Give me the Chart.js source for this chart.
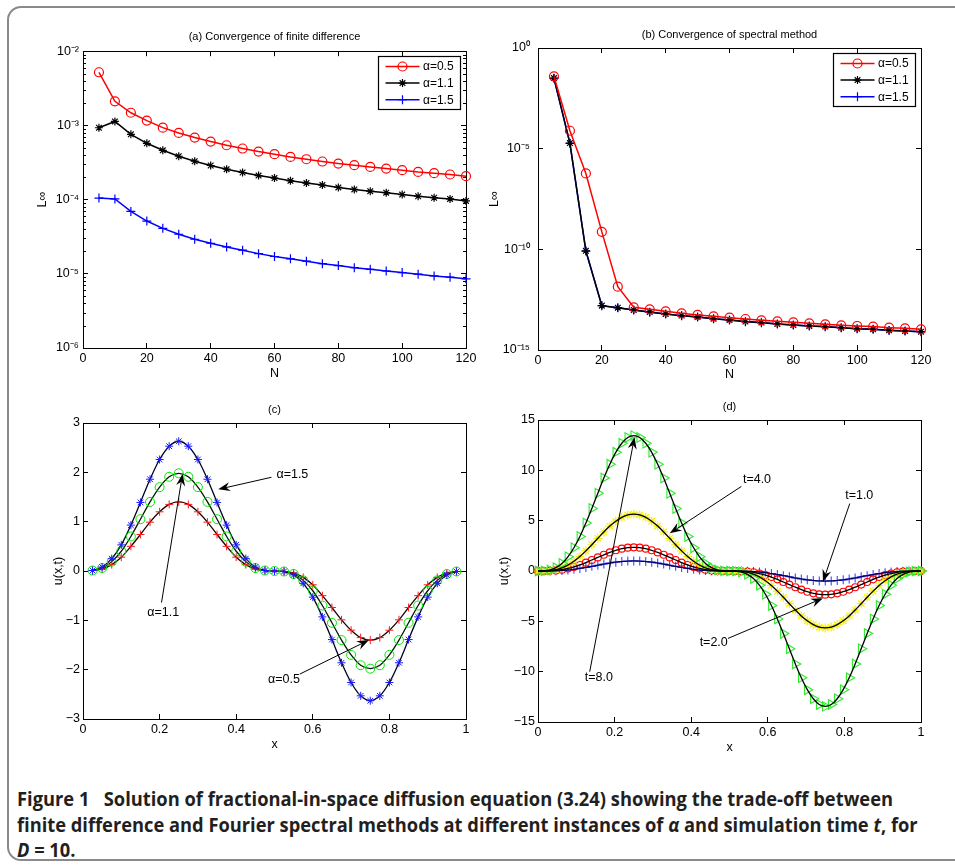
<!DOCTYPE html>
<html>
<head>
<meta charset="utf-8">
<script src="https://cdn.jsdelivr.net/npm/chart.js@4.4.1/dist/chart.umd.min.js"></script>
<style>
  html, body { margin: 0; padding: 0; background: #fff; }
  body { width: 955px; height: 865px; position: relative; overflow: hidden; }
  #card { position: absolute; left: 7px; top: 6px; width: 990px; height: 855px; border: 2px solid #8a8a8a;
          border-radius: 14px; box-sizing: border-box; }
  canvas { position: absolute; }
  #cap { position: absolute; left: 17px; top: 786px; font-family: 'Open Sans', sans-serif; font-weight: 700;
         font-size: 20px; line-height: 25.5px; color: #231f20; }
  .cl { white-space: nowrap; width: max-content; transform-origin: 0 0; }
</style>
</head>
<body>
<div id="card"></div>
<canvas id="chartA" width="480" height="362" style="left:10px;top:22px;width:480px;height:362px"></canvas>
<canvas id="chartB" width="480" height="364" style="left:470px;top:20px;width:480px;height:364px"></canvas>
<canvas id="chartC" width="480" height="362" style="left:10px;top:398px;width:480px;height:362px"></canvas>
<canvas id="chartD" width="480" height="364" style="left:470px;top:396px;width:480px;height:364px"></canvas>
<div id="cap">
  <div class="cl" data-w="876">Figure 1&nbsp;&nbsp; Solution of fractional-in-space diffusion equation (3.24) showing the trade-off between</div>
  <div class="cl" data-w="901">finite difference and Fourier spectral methods at different instances of <i>α</i> and simulation time <i>t</i>, for</div>
  <div class="cl"><i>D</i> = 10.</div>
</div>
<script>
// ---- (a) / (b) convergence data ----
const nValues = [5, 10, 15, 20, 25, 30, 35, 40, 45, 50, 55, 60, 65, 70, 75, 80, 85, 90, 95, 100, 105, 110, 115, 120];

const fdAlpha05 = [5.2e-3, 2.11e-3, 1.48e-3, 1.16e-3, 9.33e-4, 7.91e-4, 6.85e-4, 6.05e-4, 5.40e-4, 4.88e-4, 4.44e-4, 4.09e-4,
                   3.76e-4, 3.50e-4, 3.26e-4, 3.06e-4, 2.91e-4, 2.76e-4, 2.62e-4, 2.49e-4, 2.36e-4, 2.27e-4, 2.18e-4, 2.07e-4];
const fdAlpha11 = [9.3e-4, 1.13e-3, 7.59e-4, 5.74e-4, 4.62e-4, 3.84e-4, 3.29e-4, 2.88e-4, 2.57e-4, 2.32e-4, 2.11e-4, 1.95e-4,
                   1.79e-4, 1.67e-4, 1.57e-4, 1.46e-4, 1.37e-4, 1.30e-4, 1.24e-4, 1.17e-4, 1.11e-4, 1.06e-4, 1.02e-4, 9.6e-5];
const fdAlpha15 = [1.05e-4, 1.02e-4, 6.93e-5, 5.14e-5, 4.10e-5, 3.41e-5, 2.92e-5, 2.58e-5, 2.30e-5, 2.08e-5, 1.87e-5, 1.71e-5,
                   1.59e-5, 1.48e-5, 1.37e-5, 1.29e-5, 1.21e-5, 1.15e-5, 1.09e-5, 1.04e-5, 9.87e-6, 9.37e-6, 9.0e-6, 8.55e-6];

const spAlpha05 = [3.9e-2, 7.75e-5, 5.86e-7, 7.4e-10, 1.4e-12, 1.32e-13, 1.05e-13, 8.3e-14, 6.6e-14, 5.5e-14, 4.7e-14, 4.04e-14,
                   3.47e-14, 2.98e-14, 2.65e-14, 2.36e-14, 2.12e-14, 1.89e-14, 1.69e-14, 1.56e-14, 1.45e-14, 1.29e-14, 1.19e-14, 1.07e-14];
const spAlpha11 = [3.2e-2, 1.89e-5, 8.4e-11, 1.6e-13, 1.27e-13, 9.7e-14, 7.7e-14, 6.2e-14, 5.1e-14, 4.37e-14, 3.6e-14, 3.1e-14,
                   2.57e-14, 2.29e-14, 1.96e-14, 1.75e-14, 1.56e-14, 1.45e-14, 1.29e-14, 1.15e-14, 1.07e-14, 9.5e-15, 8.8e-15, 8.1e-15];
const spAlpha15 = [3.1e-2, 1.85e-5, 8.2e-11, 1.58e-13, 1.25e-13, 9.6e-14, 7.6e-14, 6.1e-14, 5.0e-14, 4.3e-14, 3.55e-14, 3.05e-14,
                   2.55e-14, 2.27e-14, 1.94e-14, 1.73e-14, 1.54e-14, 1.43e-14, 1.28e-14, 1.14e-14, 1.06e-14, 9.4e-15, 8.7e-15, 8.0e-15];

const fdTicks = [1e-6, 1e-5, 1e-4, 1e-3, 1e-2];
const spTicks = [1e-15, 1e-10, 1e-5, 1];

// ---- (c) solutions for different alpha ----
const xC = [0.025, 0.05, 0.075, 0.1, 0.125, 0.15, 0.175, 0.2, 0.225, 0.25, 0.275, 0.3, 0.325, 0.35, 0.375, 0.4, 0.425, 0.45, 0.475,
            0.5, 0.525, 0.55, 0.575, 0.6, 0.625, 0.65, 0.675, 0.7, 0.725, 0.75, 0.775, 0.8, 0.825, 0.85, 0.875, 0.9, 0.925, 0.95, 0.975];
const uAlpha15 = [0.01, 0.08, 0.25, 0.53, 0.93, 1.39, 1.86, 2.26, 2.53, 2.63, 2.53, 2.26, 1.86, 1.39, 0.93, 0.53, 0.25, 0.08, 0.01,
                  0, -0.01, -0.08, -0.25, -0.53, -0.93, -1.39, -1.86, -2.26, -2.53, -2.63, -2.53, -2.26, -1.86, -1.39, -0.93, -0.53, -0.25, -0.08, -0.01];
const uAlpha11 = [0.01, 0.06, 0.19, 0.40, 0.70, 1.05, 1.40, 1.70, 1.91, 1.98, 1.91, 1.70, 1.40, 1.05, 0.70, 0.40, 0.19, 0.06, 0.01,
                  0, -0.01, -0.06, -0.19, -0.40, -0.70, -1.05, -1.40, -1.70, -1.91, -1.98, -1.91, -1.70, -1.40, -1.05, -0.70, -0.40, -0.19, -0.06, -0.01];
const uAlpha05 = [0.01, 0.04, 0.13, 0.28, 0.50, 0.74, 0.99, 1.20, 1.35, 1.40, 1.35, 1.20, 0.99, 0.74, 0.50, 0.28, 0.13, 0.04, 0.01,
                  0, -0.01, -0.04, -0.13, -0.28, -0.50, -0.74, -0.99, -1.20, -1.35, -1.40, -1.35, -1.20, -0.99, -0.74, -0.50, -0.28, -0.13, -0.04, -0.01];

// ---- (d) solutions at different times ----
const xD = [0, 0.0156, 0.0313, 0.0469, 0.0625, 0.0781, 0.0938, 0.1094, 0.125, 0.1406, 0.1563, 0.1719, 0.1875, 0.2031, 0.2188, 0.2344, 0.25,
            0.2656, 0.2813, 0.2969, 0.3125, 0.3281, 0.3438, 0.3594, 0.375, 0.3906, 0.4063, 0.4219, 0.4375, 0.4531, 0.4688, 0.4844, 0.5,
            0.5156, 0.5313, 0.5469, 0.5625, 0.5781, 0.5938, 0.6094, 0.625, 0.6406, 0.6563, 0.6719, 0.6875, 0.7031, 0.7188, 0.7344, 0.75,
            0.7656, 0.7813, 0.7969, 0.8125, 0.8281, 0.8438, 0.8594, 0.875, 0.8906, 0.9063, 0.9219, 0.9375, 0.9531, 0.9688, 0.9844, 1];
const uT8 = [0, 0.01, 0.10, 0.33, 0.75, 1.41, 2.31, 3.43, 4.76, 6.21, 7.73, 9.23, 10.61, 11.79, 12.69, 13.26, 13.45,
             13.26, 12.69, 11.79, 10.61, 9.23, 7.73, 6.21, 4.76, 3.43, 2.31, 1.41, 0.75, 0.33, 0.10, 0.01, 0,
             -0.01, -0.10, -0.33, -0.75, -1.41, -2.31, -3.43, -4.76, -6.21, -7.73, -9.23, -10.61, -11.79, -12.69, -13.26, -13.45,
             -13.26, -12.69, -11.79, -10.61, -9.23, -7.73, -6.21, -4.76, -3.43, -2.31, -1.41, -0.75, -0.33, -0.10, -0.01, 0];
const uT4 = [0, 0.01, 0.04, 0.14, 0.32, 0.59, 0.97, 1.44, 2.00, 2.61, 3.25, 3.88, 4.46, 4.95, 5.33, 5.57, 5.65,
             5.57, 5.33, 4.95, 4.46, 3.88, 3.25, 2.61, 2.00, 1.44, 0.97, 0.59, 0.32, 0.14, 0.04, 0.01, 0,
             -0.01, -0.04, -0.14, -0.32, -0.59, -0.97, -1.44, -2.00, -2.61, -3.25, -3.88, -4.46, -4.95, -5.33, -5.57, -5.65,
             -5.57, -5.33, -4.95, -4.46, -3.88, -3.25, -2.61, -2.00, -1.44, -0.97, -0.59, -0.32, -0.14, -0.04, -0.01, 0];
const uT2 = [0, 0.00, 0.02, 0.06, 0.13, 0.25, 0.40, 0.60, 0.83, 1.09, 1.35, 1.61, 1.85, 2.06, 2.22, 2.32, 2.35,
             2.32, 2.22, 2.06, 1.85, 1.61, 1.35, 1.09, 0.83, 0.60, 0.40, 0.25, 0.13, 0.06, 0.02, 0.00, 0,
             -0.00, -0.02, -0.06, -0.13, -0.25, -0.40, -0.60, -0.83, -1.09, -1.35, -1.61, -1.85, -2.06, -2.22, -2.32, -2.35,
             -2.32, -2.22, -2.06, -1.85, -1.61, -1.35, -1.09, -0.83, -0.60, -0.40, -0.25, -0.13, -0.06, -0.02, -0.00, 0];
const uT1 = [0, 0.00, 0.01, 0.02, 0.06, 0.10, 0.17, 0.26, 0.35, 0.46, 0.57, 0.69, 0.79, 0.88, 0.94, 0.99, 1.00,
             0.99, 0.94, 0.88, 0.79, 0.69, 0.57, 0.46, 0.35, 0.26, 0.17, 0.10, 0.06, 0.02, 0.01, 0.00, 0,
             -0.00, -0.01, -0.02, -0.06, -0.10, -0.17, -0.26, -0.35, -0.46, -0.57, -0.69, -0.79, -0.88, -0.94, -0.99, -1.00,
             -0.99, -0.94, -0.88, -0.79, -0.69, -0.57, -0.46, -0.35, -0.26, -0.17, -0.10, -0.06, -0.02, -0.01, -0.00, 0];

// text labels with arrows (text anchor, arrow tail, arrow head) in data units
const notesC = [
  { text: 'α=1.5', tx: 0.505, ty: 1.95, x0: 0.492, y0: 1.90, x1: 0.353, y1: 1.655 },
  { text: 'α=1.1', tx: 0.168, ty: -0.85, x0: 0.205, y0: -0.64, x1: 0.26, y1: 1.97 },
  { text: 'α=0.5', tx: 0.483, ty: -2.20, x0: 0.566, y0: -2.09, x1: 0.7465, y1: -1.40 }
];
const notesD = [
  { text: 't=4.0', tx: 0.535, ty: 9.1, x0: 0.531, y0: 8.4, x1: 0.344, y1: 3.74 },
  { text: 't=1.0', tx: 0.802, ty: 7.5, x0: 0.814, y0: 6.7, x1: 0.744, y1: -1.06 },
  { text: 't=2.0', tx: 0.422, ty: -7.1, x0: 0.496, y0: -6.7, x1: 0.744, y1: -2.7 },
  { text: 't=8.0', tx: 0.122, ty: -10.6, x0: 0.135, y0: -10.0, x1: 0.252, y1: 13.3 }
];

const FONT = "'Liberation Sans', Arial, Helvetica, sans-serif";
const tickFont = { family: FONT, size: 12.5 };
const SUP = { '-': '\u207B', '0': '\u2070', '1': '\u00B9', '2': '\u00B2', '3': '\u00B3', '4': '\u2074',
              '5': '\u2075', '6': '\u2076', '7': '\u2077', '8': '\u2078', '9': '\u2079' };

function minus(v) { return v < 0 ? '\u2212' + Math.abs(v) : String(v); }
function powLabel(v) {
  const e = String(Math.round(Math.log10(v)));
  return '10' + e.split('').map(c => SUP[c]).join('');
}
function pts(xs, ys) { return xs.map((x, i) => ({ x: x, y: ys[i] })); }

// matlab style box: ticks pointing inwards on all four sides
function boxScales(o) {
  const grid = { display: true, drawOnChartArea: false, drawTicks: true, tickLength: -5, color: '#000', lineWidth: 1 };
  const border = { display: true, color: '#000', width: 1 };
  const xTicks = { stepSize: o.xStep, autoSkip: false, maxRotation: 0, color: '#000', font: tickFont, padding: 8.5, callback: minus };
  const yTicks = { autoSkip: false, color: '#000', font: tickFont, padding: o.yPad, callback: o.yFmt || minus };
  if (o.yStep) yTicks.stepSize = o.yStep;
  const setTicks = o.yList ? (s => { s.ticks = o.yList.map(v => ({ value: v })); }) : undefined;
  return {
    x: { type: 'linear', position: 'bottom', min: o.xMin, max: o.xMax, grid: grid, border: border, ticks: xTicks,
         title: { display: true, text: o.xTitle, color: '#000', font: tickFont, padding: { top: 0, bottom: o.xTitlePad } },
         afterFit: s => { s.height = o.xH; } },
    xTop: { type: 'linear', position: 'top', min: o.xMin, max: o.xMax, grid: grid, border: border,
            ticks: Object.assign({}, xTicks, { display: false }), afterFit: s => { s.height = 0; } },
    y: { type: o.yType, position: 'left', min: o.yMin, max: o.yMax, grid: grid, border: border, ticks: yTicks,
         afterBuildTicks: setTicks,
         title: { display: true, text: o.yTitle, color: '#000', font: tickFont, padding: { top: o.yTitlePad, bottom: 0 } },
         afterFit: s => { s.width = o.yW; } },
    yRight: { type: o.yType, position: 'right', min: o.yMin, max: o.yMax, grid: grid, border: border,
              ticks: Object.assign({}, yTicks, { display: false }), afterBuildTicks: setTicks,
              afterFit: s => { s.width = 0; } }
  };
}

function baseOptions(title, padR, tPad, bPad, scales) {
  return {
    responsive: false, animation: false, events: [],
    layout: { padding: { left: 0, right: padR, top: 0, bottom: 0 } },
    plugins: {
      legend: { display: false }, tooltip: { enabled: false },
      title: { display: true, text: title, fullSize: false, color: '#000',
               font: { family: FONT, size: 11, weight: 'normal' }, padding: { top: tPad, bottom: bPad } }
    },
    scales: scales
  };
}

// legend drawn as a boxed list inside the top right corner of the axes
function boxLegend() {
  return {
    id: 'boxLegend',
    afterDraw(chart) {
      const { ctx, chartArea: a } = chart;
      const sets = chart.data.datasets.filter(d => d.label);
      ctx.save();
      ctx.font = '12px ' + FONT;
      const tw = Math.max(...sets.map(d => ctx.measureText(d.label).width));
      const w = Math.round(45 + tw + 6), rowH = 16.6, h = Math.round(sets.length * rowH + 3);
      const x0 = Math.round(a.right - 6 - w), y0 = Math.round(a.top + 5);
      ctx.fillStyle = '#fff';
      ctx.fillRect(x0, y0, w, h);
      ctx.strokeStyle = '#000';
      ctx.lineWidth = 1.2;
      ctx.strokeRect(x0 + 0.5, y0 + 0.5, w, h);
      sets.forEach((d, i) => {
        const cy = y0 + 10.5 + i * rowH;
        ctx.strokeStyle = d.borderColor;
        ctx.lineWidth = d.borderWidth;
        ctx.beginPath(); ctx.moveTo(x0 + 7.5, cy); ctx.lineTo(x0 + 41.5, cy); ctx.stroke();
        ctx.fillStyle = 'rgba(0,0,0,0)';
        ctx.lineWidth = d.pointBorderWidth;
        ctx.strokeStyle = d.pointBorderColor;
        Chart.helpers.drawPoint(ctx, { pointStyle: d.pointStyle, radius: d.pointRadius, borderWidth: d.pointBorderWidth, rotation: 0 }, x0 + 24.5, cy);
        ctx.fillStyle = '#000';
        ctx.textAlign = 'left';
        ctx.textBaseline = 'middle';
        ctx.fillText(d.label, x0 + 45, cy + 0.5);
      });
      ctx.restore();
    }
  };
}

// short minor ticks for the log axis
function minorTicks(values) {
  return {
    id: 'minorTicks',
    afterDraw(chart) {
      const { ctx, chartArea: a, scales: { y } } = chart;
      ctx.save();
      ctx.strokeStyle = '#000';
      ctx.lineWidth = 1;
      ctx.beginPath();
      values.forEach(v => {
        const py = Math.round(y.getPixelForValue(v)) + 0.5;
        ctx.moveTo(a.left, py); ctx.lineTo(a.left + 3, py);
        ctx.moveTo(a.right, py); ctx.lineTo(a.right - 3, py);
      });
      ctx.stroke();
      ctx.restore();
    }
  };
}

// text annotations with filled arrow heads
function arrowNotes(notes) {
  return {
    id: 'arrowNotes',
    afterDraw(chart) {
      const { ctx, scales: { x, y } } = chart;
      ctx.save();
      ctx.font = '12.5px ' + FONT;
      ctx.fillStyle = '#000';
      ctx.strokeStyle = '#000';
      ctx.lineWidth = 1;
      notes.forEach(n => {
        ctx.textAlign = 'left';
        ctx.textBaseline = 'middle';
        ctx.fillText(n.text, x.getPixelForValue(n.tx), y.getPixelForValue(n.ty));
        const px0 = x.getPixelForValue(n.x0), py0 = y.getPixelForValue(n.y0);
        const px1 = x.getPixelForValue(n.x1), py1 = y.getPixelForValue(n.y1);
        const ang = Math.atan2(py1 - py0, px1 - px0);
        const c = Math.cos(ang), s = Math.sin(ang);
        const L = 12, W = 4.5, notch = 8;
        const bx = px1 - L * c, by = py1 - L * s;
        const nx = px1 - notch * c, ny = py1 - notch * s;
        ctx.beginPath(); ctx.moveTo(px0, py0); ctx.lineTo(nx, ny); ctx.stroke();
        ctx.beginPath();
        ctx.moveTo(px1, py1);
        ctx.lineTo(bx - W * s, by + W * c);
        ctx.lineTo(nx, ny);
        ctx.lineTo(bx + W * s, by - W * c);
        ctx.closePath();
        ctx.fill();
      });
      ctx.restore();
    }
  };
}

function convSet(label, ys, color, style, r) {
  return { label: label, data: pts(nValues, ys), borderColor: color, borderWidth: 1.5, pointStyle: style,
           pointRadius: r, pointBorderColor: color, pointBackgroundColor: 'rgba(0,0,0,0)', pointBorderWidth: 1.2,
           clip: false, tension: 0 };
}

// ---------- (a) ----------
const minorA = [];
[1e-6, 1e-5, 1e-4, 1e-3].forEach(d => { for (let m = 2; m <= 9; m++) minorA.push(m * d); });

new Chart(document.getElementById('chartA'), {
  type: 'line',
  data: { datasets: [
    convSet('α=0.5', fdAlpha05, '#ff0000', 'circle', 4.5),
    convSet('α=1.1', fdAlpha11, '#000000', 'star', 4),
    convSet('α=1.5', fdAlpha15, '#0000ff', 'cross', 4.5)
  ] },
  options: baseOptions('(a) Convergence of finite difference', 24, 8, 8, boxScales({
    xMin: 0, xMax: 120, xStep: 20, xTitle: 'N', xH: 36, xTitlePad: 3.2,
    yType: 'logarithmic', yMin: 1e-6, yMax: 1e-2, yList: fdTicks, yFmt: powLabel, yPad: 9,
    yTitle: 'L∞', yW: 73, yTitlePad: 25.5
  })),
  plugins: [minorTicks(minorA), boxLegend()]
});

// ---------- (b) ----------
new Chart(document.getElementById('chartB'), {
  type: 'line',
  data: { datasets: [
    convSet('α=0.5', spAlpha05, '#ff0000', 'circle', 4.5),
    convSet('α=1.1', spAlpha11, '#000000', 'star', 4),
    convSet('α=1.5', spAlpha15, '#0000ff', 'cross', 4.5)
  ] },
  options: baseOptions('(b) Convergence of spectral method', 29, 8, 6.8, boxScales({
    xMin: 0, xMax: 120, xStep: 20, xTitle: 'N', xH: 34, xTitlePad: 2.2,
    yType: 'logarithmic', yMin: 1e-15, yMax: 1, yList: spTicks, yFmt: powLabel, yPad: 13,
    yTitle: 'L∞', yW: 68, yTitlePad: 17.2
  })),
  plugins: [boxLegend()]
});

// ---------- (c) ----------
function markerSet(xs, ys, color, style, r, rot, bw) {
  return { data: pts(xs, ys), showLine: false, pointStyle: style, pointRadius: r, pointRotation: rot || 0,
           pointBorderColor: color, pointBackgroundColor: 'rgba(0,0,0,0)', pointBorderWidth: bw || 1, clip: false };
}
function curveSet(xs, ys, color, order) {
  return { data: pts(xs, ys), borderColor: color, borderWidth: 1.3, pointRadius: 0, tension: 0.3, order: order };
}

new Chart(document.getElementById('chartC'), {
  type: 'line',
  data: { datasets: [
    Object.assign(markerSet(xC, uAlpha15, '#1a1aff', 'star', 4), { order: 0 }),
    Object.assign(markerSet(xC, uAlpha11, '#00e600', 'circle', 4.5), { order: 0 }),
    Object.assign(markerSet(xC, uAlpha05, '#ff1a1a', 'cross', 4), { order: 0 }),
    curveSet(xC, uAlpha15, '#000022', 1),
    curveSet(xC, uAlpha11, '#001a00', 1),
    curveSet(xC, uAlpha05, '#220000', 1)
  ] },
  options: baseOptions('(c)', 24, 5, 6.8, boxScales({
    xMin: 0, xMax: 1, xStep: 0.2, xTitle: 'x', xH: 41, xTitlePad: 7.5,
    yType: 'linear', yMin: -3, yMax: 3, yStep: 1, yPad: 8,
    yTitle: 'u(x,t)', yW: 73, yTitlePad: 41.5
  })),
  plugins: [arrowNotes(notesC)]
});

// ---------- (d) ----------
new Chart(document.getElementById('chartD'), {
  type: 'line',
  data: { datasets: [
    curveSet(xD, uT8, '#000000', 0),
    curveSet(xD, uT4, '#000000', 0),
    curveSet(xD, uT2, '#000000', 0),
    curveSet(xD, uT1, '#000060', 0),
    Object.assign(markerSet(xD, uT8, '#2ee82e', 'triangle', 5.5, 90, 1.1), { order: 1 }),
    Object.assign(markerSet(xD, uT4, '#f7f000', 'star', 4.5, 0, 1.2), { order: 1 }),
    Object.assign(markerSet(xD, uT2, '#ff0000', 'circle', 3.5, 0, 1.1), { order: 1 }),
    Object.assign(markerSet(xD, uT1, '#4646ff', 'cross', 4.5, 0, 1.1), { order: 1 })
  ] },
  options: baseOptions('(d)', 29, 4, 6.8, boxScales({
    xMin: 0, xMax: 1, xStep: 0.2, xTitle: 'x', xH: 38, xTitlePad: 5.2,
    yType: 'linear', yMin: -15, yMax: 15, yStep: 5, yPad: 8,
    yTitle: 'u(x,t)', yW: 68, yTitlePad: 27.5
  })),
  plugins: [arrowNotes(notesD)]
});

// squeeze caption lines to the measured widths of the original
function fitCaption() {
  const lines = document.querySelectorAll('.cl');
  let last = 1;
  lines.forEach(el => {
    el.style.transform = 'none';
    const target = parseFloat(el.dataset.w);
    if (target) last = target / el.offsetWidth;
    el.style.transform = 'scaleX(' + last + ')';
  });
}
fitCaption();
if (document.fonts && document.fonts.ready) document.fonts.ready.then(fitCaption);
</script>
</body>
</html>
